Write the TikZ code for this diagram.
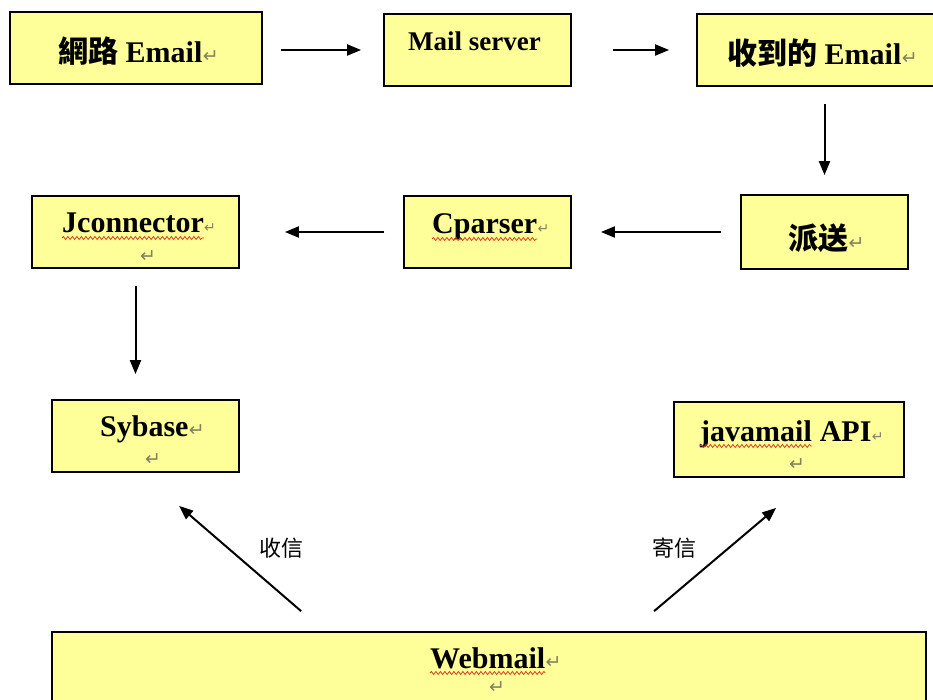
\documentclass[tikz,border=0pt]{standalone}
\usepackage{fontspec}
\setmainfont{Liberation Serif}
\newfontfamily\cjk{Noto Sans CJK SC}
\newfontfamily\symf{DejaVu Sans}
\usetikzlibrary{arrows.meta,decorations.pathmorphing}
\definecolor{boxfill}{HTML}{FFFF99}
\definecolor{markgray}{RGB}{130,130,95}
\definecolor{spellred}{RGB}{215,60,30}
% paragraph marks as Word shows them
\newcommand{\pmark}{{\symf\fontsize{19}{19}\selectfont\textcolor{markgray}{↵}}}
\newcommand{\smark}{{\symf\fontsize{14}{14}\selectfont\textcolor{markgray}{↵}}}
\begin{document}
\begin{tikzpicture}[x=1pt,y=-1pt,
  box/.style={draw=black, fill=boxfill, line width=1.8pt, rectangle, inner sep=0pt},
  lbl/.style={inner sep=0pt, anchor=base west, font=\bfseries\fontsize{30}{30}\selectfont},
  mk/.style={inner sep=0pt, anchor=base west},
  mkc/.style={inner sep=0pt},
  arr/.style={line width=2pt, -{Triangle[length=14pt,width=11pt]}},
  wavy/.style={spellred, line width=0.8pt, decorate,
               decoration={snake, amplitude=1.5pt, segment length=4.5pt}},
  edgelbl/.style={inner sep=0pt, font=\cjk\fontsize{22}{22}\selectfont}]
\clip (0,0) rectangle (933,700);
\fill[white] (0,0) rectangle (933,700);

% boxes
\node[box, minimum width=252pt, minimum height=72pt] (b1) at (136,48) {};
\node[box, minimum width=187pt, minimum height=72pt] (b2) at (477.5,50) {};
\node[box, minimum width=250pt, minimum height=72pt] (b3) at (822,50) {};
\node[box, minimum width=207pt, minimum height=72pt] (b4) at (135.5,232) {};
\node[box, minimum width=167pt, minimum height=72pt] (b5) at (487.5,232) {};
\node[box, minimum width=167pt, minimum height=74pt] (b6) at (824.5,232) {};
\node[box, minimum width=187pt, minimum height=72pt] (b7) at (145.5,436) {};
\node[box, minimum width=230pt, minimum height=75pt] (b8) at (789,439.5) {};
\node[box, minimum width=874pt, minimum height=100pt] (b9) at (489,682) {};

% box texts
\node[lbl] (t1) at (58,63) {{\cjk 網路} Email};
\node[mk] (m1) at (t1.base east) {\pmark};
\node[lbl, font=\bfseries\fontsize{27}{27}\selectfont] (t2) at (408,51) {Mail server};
\node[lbl] (t3) at (727,65) {{\cjk 收到的} Email};
\node[mk] (m3) at (t3.base east) {\pmark};

\node[lbl] (t4) at (62,233) {Jconnector};
\node[mk] (m4) at (t4.base east) {\smark};
\node[mkc] (n4) at (148,257) {\pmark};
\node[lbl] (t5) at (432,234) {Cparser};
\node[mk] (m5) at (t5.base east) {\smark};
\node[lbl] (t6) at (788,250) {\cjk 派送};
\node[mk] (m6) at (t6.base east) {\pmark};

\node[lbl] (t7) at (100,436) {Sybase};
\node[mk] (m7) at (t7.base east) {\pmark};
\node[mkc] (n7) at (153,460) {\pmark};
\node[lbl] (t8) at (700,441) {javamail};
\node[lbl] (t8b) at (t8.base east) {\ API};
\node[mk] (m8) at (t8b.base east) {\smark};
\node[mkc] (n8) at (797,465) {\pmark};

\node[lbl] (t9) at (430,668) {Webmail};
\node[mk] (m9) at (t9.base east) {\pmark};
\node[mkc] (n9) at (497,688) {\pmark};

% spell-check underlines
\draw[wavy] ([yshift=-5pt]t4.base west) -- ([yshift=-5pt]t4.base east);
\draw[wavy] ([yshift=-5pt]t5.base west) -- ([yshift=-5pt]t5.base east);
\draw[wavy] ([yshift=-5pt]t8.base west) -- ([yshift=-5pt]t8.base east);
\draw[wavy] ([yshift=-5pt]t9.base west) -- ([yshift=-5pt]t9.base east);

% flow arrows
\draw[arr, shorten <=18pt, shorten >=22pt] (b1.east |- b2.west) -- (b2.west);
\draw[arr, shorten <=41pt, shorten >=27pt] (b2.east) -- (b3.west);
\draw[arr, shorten <=17pt, shorten >=19pt] (b3.south -| b6.north) -- (b6.north);
\draw[arr, shorten <=19pt, shorten >=29pt] (b6.west) -- (b5.east);
\draw[arr, shorten <=19pt, shorten >=45pt] (b5.west) -- (b4.east);
\draw[arr, shorten <=17pt, shorten >=25pt] (b4.south) -- (b4.south |- b7.north);

% webmail links
\draw[arr] ([shift={(250,-20)}]b9.north west) -- ([shift={(128,33)}]b7.south west);
\draw[arr] ([shift={(603,-20)}]b9.north west) -- ([shift={(103,30)}]b8.south west);
\node[edgelbl] (l1) at (281,548) {收信};
\node[edgelbl] (l2) at (674,548) {寄信};
\end{tikzpicture}
\end{document}
